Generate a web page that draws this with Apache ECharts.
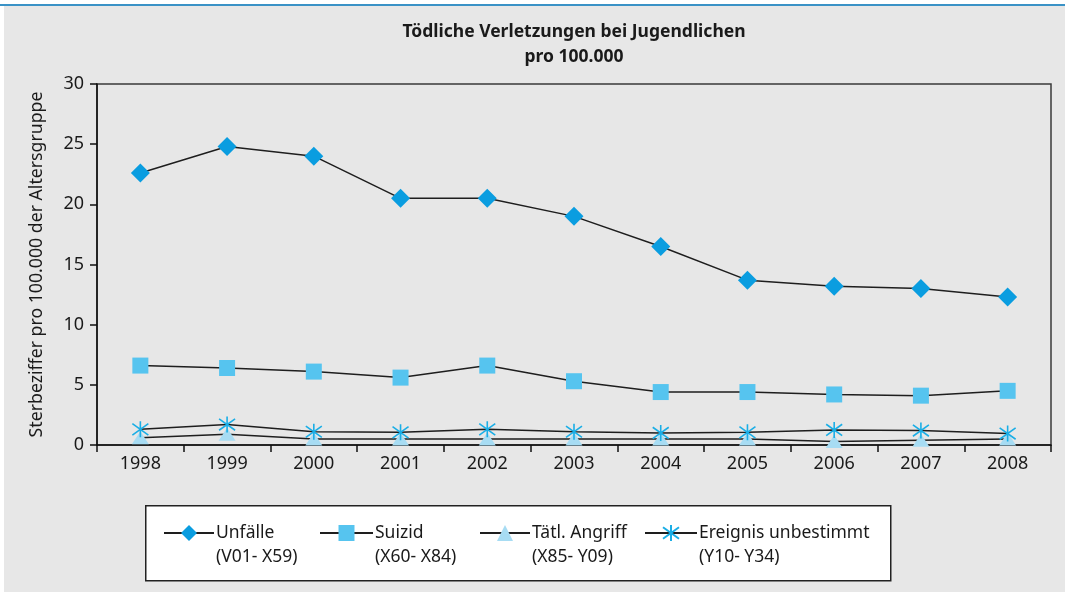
<!DOCTYPE html>
<html>
<head>
<meta charset="utf-8">
<script src="https://cdn.jsdelivr.net/npm/echarts@6/dist/echarts.min.js"></script>
<style>
  html, body { margin: 0; padding: 0; background: #fff; }
  #chart { width: 1065px; height: 592px; }
</style>
</head>
<body>
<div id="chart"></div>
<script>
/* Daten */
const years = ['1998', '1999', '2000', '2001', '2002', '2003', '2004', '2005', '2006', '2007', '2008']
const unfaelle = [22.6, 24.8, 24.0, 20.5, 20.5, 19.0, 16.5, 13.7, 13.2, 13.0, 12.3]
const suizid = [6.6, 6.4, 6.1, 5.6, 6.6, 5.3, 4.4, 4.4, 4.2, 4.1, 4.5]
const angriff = [0.6, 0.9, 0.5, 0.5, 0.5, 0.5, 0.5, 0.5, 0.3, 0.4, 0.5]
const unbestimmt = [1.3, 1.7, 1.1, 1.05, 1.3, 1.1, 1.0, 1.05, 1.25, 1.2, 0.95]
const seriesNames = [
  'Unfälle\n(V01- X59)',
  'Suizid\n(X60- X84)',
  'Tätl. Angriff\n(X85- Y09)',
  'Ereignis unbestimmt\n(Y10- Y34)'
]

const font = 'Noto Sans'
const textColor = '#1a1a1a'
const lineColor = '#1e1e1e'

/* Sternchen-Symbol */
const asterisk = 'path://M8,0L8,16M2.3,2.3L13.7,13.7M13.7,2.3L2.3,13.7'

const chart = echarts.init(document.getElementById('chart'))

const legendLefts = [163, 319, 479, 644]
const legendWidths = [50, 53, 50, 52]

const option = {
  backgroundColor: '#ffffff',
  animation: false,
  textStyle: { fontFamily: font, color: textColor },
  graphic: [
    { type: 'rect', left: 4, top: 6, shape: { width: 1061, height: 586 }, style: { fill: '#e7e7e7' }, z: -10 },
    { type: 'rect', left: 0, top: 4, shape: { width: 1065, height: 2 }, style: { fill: '#3a92c6' }, z: -9 },
    // Legendenrahmen
    { type: 'rect', left: 145, top: 505, shape: { width: 745, height: 75 }, style: { fill: '#ffffff', stroke: '#222', lineWidth: 1.5 }, z: -5 }
  ],
  title: {
    text: 'Tödliche Verletzungen bei Jugendlichen\npro 100.000',
    left: 574,
    top: 20,
    textAlign: 'center',
    padding: 0,
    textStyle: { fontFamily: font, fontSize: 17.5, fontWeight: 'bold', color: textColor, lineHeight: 25 }
  },
  legend: seriesNames.map((name, i) => ({
    data: [name],
    left: legendLefts[i],
    top: 497,
    padding: 0,
    itemWidth: legendWidths[i],
    itemHeight: 20,
    selectedMode: false,
    formatter: n => '\n' + n,
    textStyle: { fontFamily: font, fontSize: 17.5, color: textColor, lineHeight: 24, padding: [0, 0, 0, -3] }
  })),
  grid: {
    left: 97,
    right: 14,
    top: 84,
    bottom: 147,
    show: true,
    borderColor: '#3a3a3a',
    borderWidth: 1.5,
    backgroundColor: 'transparent'
  },
  xAxis: {
    type: 'category',
    data: years,
    boundaryGap: true,
    axisLine: { lineStyle: { color: '#111', width: 1.5 } },
    axisTick: { show: true, length: 7, lineStyle: { color: '#111', width: 1.5 } },
    axisLabel: { fontFamily: font, fontSize: 18, color: textColor, margin: 10 }
  },
  yAxis: {
    type: 'value',
    min: 0,
    max: 30,
    interval: 5,
    name: 'Sterbeziffer pro 100.000 der Altersgruppe',
    nameLocation: 'middle',
    nameGap: 51,
    nameTextStyle: { fontFamily: font, fontSize: 17.7, color: textColor },
    axisLine: { show: true, lineStyle: { color: '#111', width: 1.5 } },
    axisTick: { show: true, length: 7, lineStyle: { color: '#111', width: 1.5 } },
    axisLabel: { fontFamily: font, fontSize: 18, color: textColor, margin: 13 },
    splitLine: { show: false }
  },
  series: [
    {
      name: seriesNames[0],
      type: 'line',
      data: unfaelle,
      symbol: 'diamond',
      symbolSize: 19,
      lineStyle: { color: lineColor, width: 1.5 },
      itemStyle: { color: '#0a9de0' }
    },
    {
      name: seriesNames[1],
      type: 'line',
      data: suizid,
      symbol: 'rect',
      symbolSize: 16,
      lineStyle: { color: lineColor, width: 1.5 },
      itemStyle: { color: '#56c4ef' }
    },
    {
      name: seriesNames[2],
      type: 'line',
      data: angriff,
      symbol: 'triangle',
      symbolSize: [17, 13],
      lineStyle: { color: lineColor, width: 1.5 },
      itemStyle: { color: '#a7dcf3' }
    },
    {
      name: seriesNames[3],
      type: 'line',
      data: unbestimmt,
      symbol: asterisk,
      symbolSize: 16,
      lineStyle: { color: lineColor, width: 1.5 },
      itemStyle: { color: 'rgba(0,0,0,0)', borderColor: '#1aaee6', borderWidth: 1.6 }
    }
  ]
}

chart.setOption(option)
</script>
</body>
</html>
